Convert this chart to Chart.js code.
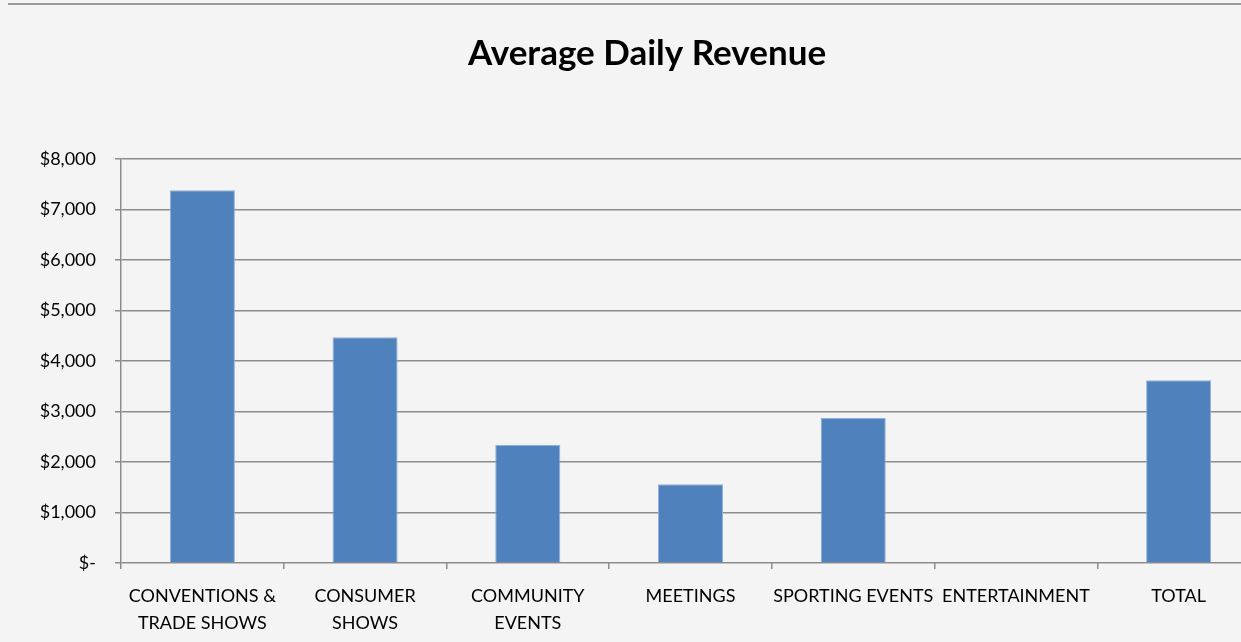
<!DOCTYPE html>
<html>
<head>
<meta charset="utf-8">
<script src="https://cdn.jsdelivr.net/npm/chart.js@4/dist/chart.umd.min.js"></script>
<style>
    html, body {
        margin: 0;
        padding: 0;
        background: #f4f4f4;
        overflow: hidden;
    }
    #frame {
        position: absolute;
        left: 8px;
        top: 3px;
        width: 1300px;
        border-top: 2px solid #9a9a9a;
    }
    #wrap {
        position: absolute;
        left: 0;
        top: 0;
        width: 1268px;
        height: 655px;
    }
</style>
</head>
<body>
<div id="frame"></div>
<div id="wrap"><canvas id="revenue-chart"></canvas></div>
<script>
const categories = [
    ["CONVENTIONS &", "TRADE SHOWS"],
    ["CONSUMER", "SHOWS"],
    ["COMMUNITY", "EVENTS"],
    "MEETINGS",
    "SPORTING EVENTS",
    "ENTERTAINMENT",
    "TOTAL",
];
const revenue = [7380, 4470, 2340, 1560, 2870, 0, 3620];
const yTicks = [0, 1000, 2000, 3000, 4000, 5000, 6000, 7000, 8000];

const ctx = document.getElementById("revenue-chart");

function money(v) {
    if (v === 0) return "$-";
    return "$" + v.toLocaleString("en-US");
}

const data = {
    labels: categories,
    datasets: [
        {
            label: "Average Daily Revenue",
            data: revenue,
            backgroundColor: "#4f81bd",
            borderColor: "#8eb0da",
            borderWidth: 1,
            barPercentage: 0.4,
            categoryPercentage: 1,
        },
    ],
};

const config = {
    type: "bar",
    data,
    options: {
        responsive: true,
        maintainAspectRatio: false,
        animation: false,
        layout: { padding: { left: 34, right: 8, top: 0, bottom: 4 } },
        plugins: {
            legend: { display: false },
            tooltip: { enabled: false },
            title: {
                display: true,
                text: "Average Daily Revenue",
                color: "#000",
                font: { family: "Lato", size: 35, weight: "bold" },
                padding: { top: 33, bottom: 84 },
            },
        },
        scales: {
            x: {
                grid: {
                    display: true,
                    drawOnChartArea: false,
                    offset: true,
                    color: "#8c8c8c",
                    lineWidth: 1.5,
                    tickLength: 6,
                },
                border: { display: false },
                ticks: {
                    color: "#000",
                    font: { family: "Lato", size: 18, lineHeight: 1.5 },
                    autoSkip: false,
                    maxRotation: 0,
                    minRotation: 0,
                    padding: 14,
                },
            },
            y: {
                min: 0,
                max: 8000,
                afterBuildTicks: (axis) => {
                    axis.ticks = yTicks.map((v) => ({ value: v }));
                },
                afterFit: (axis) => {
                    axis.width = 87;
                },
                grid: {
                    color: "#8c8c8c",
                    lineWidth: 1.5,
                    tickLength: 6,
                },
                border: { color: "#8c8c8c", width: 1.5 },
                ticks: {
                    color: "#000",
                    font: { family: "Lato", size: 18 },
                    padding: 19,
                    callback: (v) => money(v),
                },
            },
        },
    },
};

new Chart(ctx, config);
</script>
</body>
</html>
